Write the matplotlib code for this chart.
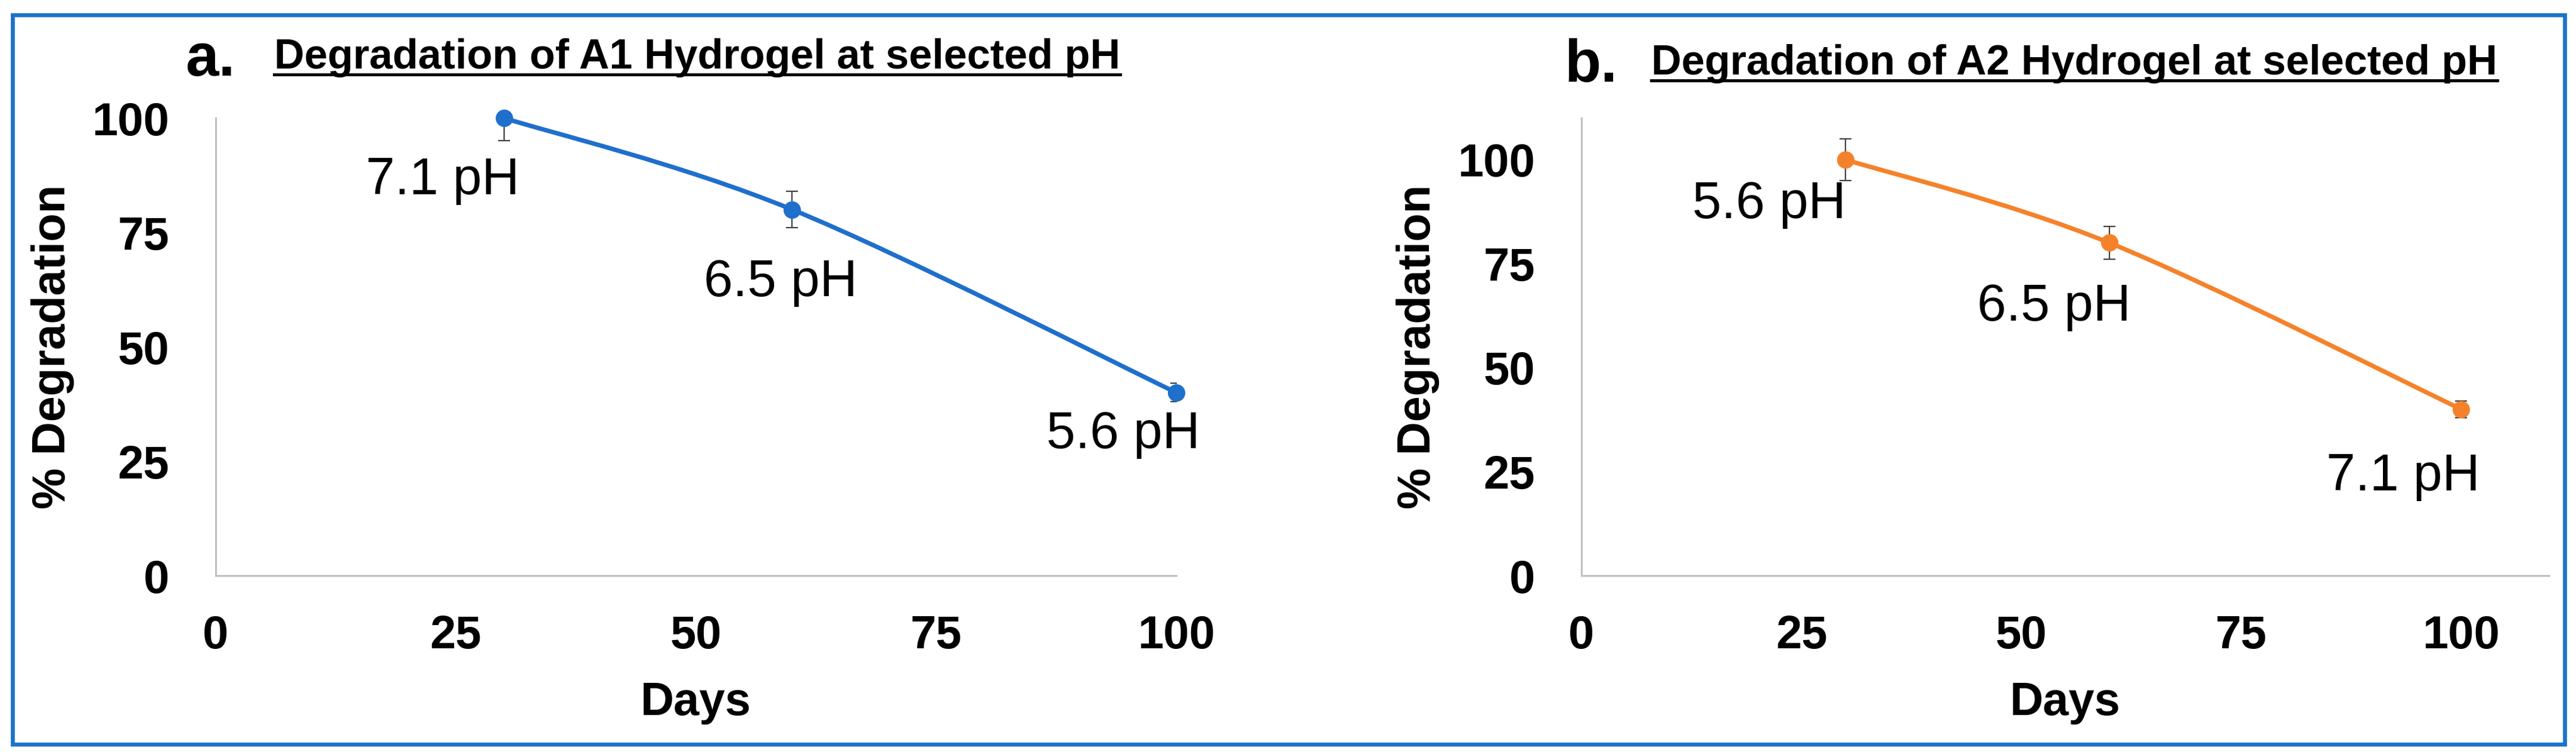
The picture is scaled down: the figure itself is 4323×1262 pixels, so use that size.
import numpy as np
import matplotlib
matplotlib.use("Agg")
import matplotlib.pyplot as plt
from matplotlib.path import Path
from matplotlib.patches import PathPatch, Rectangle
from matplotlib.lines import Line2D

plt.rcParams['font.family'] = ['Liberation Sans', 'DejaVu Sans']

# ---------------- data ----------------
days = [30, 60, 100]
deg_a1 = [100, 80, 40]
err_a1 = [5, 4, 2]
ph_labels_a1 = ["7.1 pH", "6.5 pH", "5.6 pH"]

deg_a2 = [100, 80, 40]
err_a2 = [5, 4, 2]
ph_labels_a2 = ["5.6 pH", "6.5 pH", "7.1 pH"]

x_ticks = [0, 25, 50, 75, 100]
y_ticks = [0, 25, 50, 75, 100]

title_a = "Degradation of A1 Hydrogel at selected pH"
title_b = "Degradation of A2 Hydrogel at selected pH"
panel_a = "a."
panel_b = "b."
xlabel = "Days"
ylabel = "% Degradation"

# label offsets (points) from the data point to the text baseline centre
offs_a = [(-74, -92), (-14, -105), (-64, -67)]
offs_b = [(-92, -71), (-67, -94), (-70, -98)]

BLUE = '#1F6FCC'
ORANGE = '#F5822B'
FRAME = '#1A73C8'
AXIS_GRAY = '#BFBFBF'

W, H = 4323, 1262
fig = plt.figure(figsize=(W / 100, H / 100), dpi=100)


def smooth_path(xs, ys):
    """Excel-like smoothed line: cubic Bezier segments with Catmull-Rom controls."""
    pts = np.column_stack([xs, ys]).astype(float)
    n = len(pts)
    verts = [pts[0]]
    codes = [Path.MOVETO]
    for i in range(n - 1):
        p_prev = pts[i - 1] if i > 0 else pts[i]
        p0 = pts[i]
        p1 = pts[i + 1]
        p_next = pts[i + 2] if i + 2 < n else pts[i + 1]
        c1 = p0 + (p1 - p_prev) / 6.0
        c2 = p1 - (p_next - p0) / 6.0
        verts += [c1, c2, p1]
        codes += [Path.CURVE4] * 3
    return Path(verts, codes)


def make_panel(rect, xs, ys, errs, labels, offs, color, xmax, ymax):
    ax = fig.add_axes(rect)
    ax.set_xlim(0, xmax)
    ax.set_ylim(0, ymax)
    for s in ['top', 'right']:
        ax.spines[s].set_visible(False)
    for s in ['left', 'bottom']:
        ax.spines[s].set_color(AXIS_GRAY)
        ax.spines[s].set_linewidth(2.2)
    ax.set_xticks(x_ticks)
    ax.set_yticks(y_ticks)
    ax.tick_params(axis='both', length=0, labelsize=56)
    ax.tick_params(axis='y', pad=56)
    ax.tick_params(axis='x', pad=47)
    for t in ax.get_xticklabels() + ax.get_yticklabels():
        t.set_fontweight('bold')

    # error bars
    ax.errorbar(xs, ys, yerr=errs, fmt='none', ecolor='#404040',
                elinewidth=1.6, capsize=7.5, capthick=1.6, zorder=2)
    # smoothed line
    patch = PathPatch(smooth_path(xs, ys), facecolor='none', edgecolor=color,
                      lw=5.4, zorder=3, capstyle='round', joinstyle='round')
    ax.add_patch(patch)
    ax.plot(xs, ys, linestyle='none', marker='o', markersize=20,
            color=color, zorder=4, clip_on=False)

    for x, y, lab, (dx, dy) in zip(xs, ys, labels, offs):
        ax.annotate(lab, xy=(x, y), xytext=(dx, dy), textcoords='offset points',
                    ha='center', va='baseline', fontsize=63, color='black',
                    annotation_clip=False)

    ax.set_xlabel(xlabel, fontsize=56, fontweight='bold')
    ax.set_ylabel(ylabel, fontsize=56, fontweight='bold')
    return ax


def frac_rect(l, r, b, t):
    return [l / W, 1 - b / H, (r - l) / W, (b - t) / H]


ax_a = make_panel(frac_rect(362, 1974, 966, 198), days, deg_a1, err_a1,
                  ph_labels_a1, offs_a, BLUE, 100, 100)
ax_b = make_panel(frac_rect(2654, 4278, 966, 198), days, deg_a2, err_a2,
                  ph_labels_a2, offs_b, ORANGE, 110, 110)

for ax, lx in [(ax_a, (89 - 362) / 1612), (ax_b, (2380 - 2654) / 1624)]:
    ax.yaxis.set_label_coords(lx, 0.5)
    ax.yaxis.label.set_va('center')
    ax.xaxis.set_label_coords(0.5, (966 - 1200) / 768)
    ax.xaxis.label.set_va('baseline')

# panel letters and titles
fig.text(311 / W, 1 - 127 / H, panel_a, fontsize=72, fontweight='bold',
         ha='left', va='baseline')
fig.text(2625 / W, 1 - 137 / H, panel_b, fontsize=72, fontweight='bold',
         ha='left', va='baseline')
t_a = fig.text(460 / W, 1 - 115 / H, title_a, fontsize=50.5, fontweight='bold',
               ha='left', va='baseline')
t_b = fig.text(2771 / W, 1 - 125 / H, title_b, fontsize=50.5, fontweight='bold',
               ha='left', va='baseline')

fig.canvas.draw()
renderer = fig.canvas.get_renderer()
for t, base in [(t_a, 115), (t_b, 125)]:
    bb = t.get_window_extent(renderer)
    yline = 1 - (base + 10) / H
    fig.add_artist(Line2D([bb.x0 / W, bb.x1 / W], [yline, yline],
                          transform=fig.transFigure, color='black', lw=3.6))

# outer frame
fig.add_artist(Rectangle((21 / W, 1 - 1249 / H), (4304 - 21) / W, (1249 - 25) / H,
                         transform=fig.transFigure, fill=False,
                         edgecolor=FRAME, lw=4.8))

fig.savefig('out.png', dpi=100, facecolor='white')
